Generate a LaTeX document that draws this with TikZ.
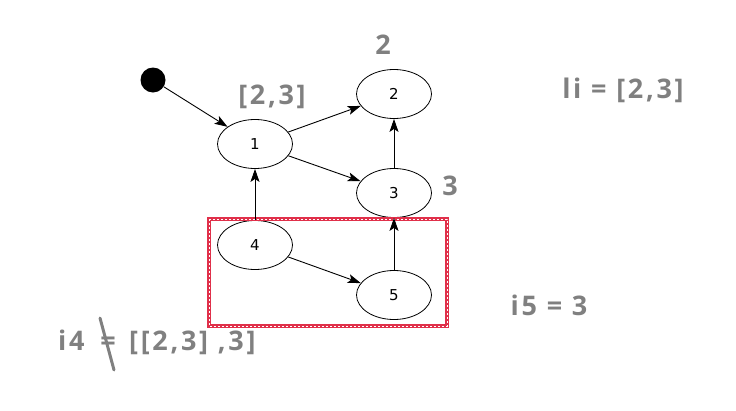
\documentclass[tikz,border=0pt]{standalone}
\usepackage{fontspec}
\setmainfont{DejaVu Sans}
\newfontfamily\lblfont[LetterSpace=10]{Open Sans}
\usetikzlibrary{arrows.meta,shapes.geometric}
\definecolor{lblgray}{HTML}{808080}
\definecolor{selred}{HTML}{E0304A}
\begin{document}
\begin{tikzpicture}[x=1pt,y=-1pt,
  st/.style={ellipse,draw=black,line width=0.8pt,minimum width=75pt,minimum height=49pt,inner sep=0pt,font=\fontsize{15}{17}\selectfont},
  edge/.style={-{Stealth[length=13pt,width=9pt,inset=3pt]},line width=0.9pt,black},
  lbl/.style={text=lblgray,font=\lblfont\bfseries\fontsize{27}{31}\selectfont,inner sep=0pt}]
\useasboundingbox (0,0) rectangle (736,410);
\node[circle,fill=black,minimum size=25pt,inner sep=0pt] (s) at (153,80) {};
\node[st] (n1) at (255,144) {1};
\node[st] (n2) at (394,94) {2};
\node[st] (n3) at (394,193) {3};
\node[st] (n4) at (255,245) {4};
\node[st] (n5) at (394,295) {5};
% selection rectangle
\coordinate (r1) at (209,219);
\coordinate (r2) at (447,326);
\draw[selred,line width=3.5pt] (r1) rectangle (r2);
\draw[white,line width=0.8pt,dash pattern=on 2pt off 2pt] (r1) rectangle (r2);
\draw[edge] (s) -- (n1);
\draw[edge] (n1) -- (n2);
\draw[edge] (n1) -- (n3);
\draw[edge] (n3) -- (n2);
\draw[edge] (n4) -- (n1);
\draw[edge] (n4) -- (n5);
\draw[edge] (n5) -- (n3);
% labels
\node[lbl] (l2) at (383,45) {2};
\node[lbl] (l23) at (272,97) {[2,3]};
\node[lbl] (l3) at (450,186) {3};
\node[lbl] (lli) at (623,90) {li = [2,3]};
\node[lbl] (li5) at (549,305) {i5 = 3};
\node[lbl,anchor=base west] (li4a) at (58,350) {i4};
\node[lbl,anchor=base] (li4b) at (108,350) {=};
\node[lbl,anchor=base west] (li4c) at (129,350) {[[2,3] ,3]};
\coordinate (sl1) at (100,318);
\coordinate (sl2) at (114,370);
\draw[lblgray,line width=3pt,line cap=round] (sl1) -- (sl2);
\end{tikzpicture}
\end{document}
